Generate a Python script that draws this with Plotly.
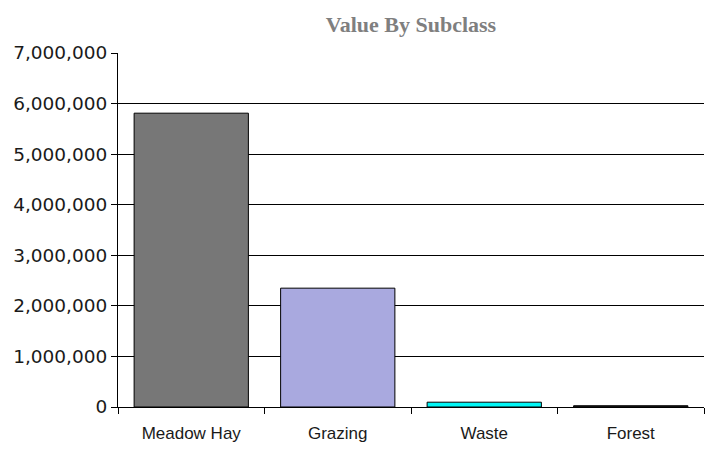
import plotly.graph_objects as go

categories = ["Meadow Hay", "Grazing", "Waste", "Forest"]
values = [5810000, 2350000, 95000, 25000]
colors = ["#777777", "#A9A9DF", "#00F5F5", "#222222"]
y_ticks = [0, 1000000, 2000000, 3000000, 4000000, 5000000, 6000000, 7000000]
y_labels = ["0", "1,000,000", "2,000,000", "3,000,000", "4,000,000", "5,000,000", "6,000,000", "7,000,000"]

fig = go.Figure(go.Bar(
    x=categories, y=values,
    marker=dict(color=colors, line=dict(color="black", width=1)),
    width=0.78,
    hoverinfo="x+y",
))

fig.update_layout(
    width=705, height=453,
    margin=dict(l=118, r=1, t=53, b=46),
    paper_bgcolor="white", plot_bgcolor="white",
    title=dict(text="<b>Value By Subclass</b>", x=(118 + 704) / 2 / 705, xanchor="center",
               y=1 - 24 / 453, yanchor="middle",
               font=dict(family="Liberation Serif, DejaVu Serif, serif", size=22, color="#7f7f7f")),
    showlegend=False,
)
fig.update_xaxes(
    showline=True, linecolor="black", linewidth=1,
    ticks="outside", tickson="boundaries", ticklen=6, tickcolor="black",
    ticklabelstandoff=11,
    tickfont=dict(family="Liberation Sans, Arial, sans-serif", size=17, color="#1a1a1a"),
    showgrid=False,
)
fig.update_yaxes(
    range=[0, 7000000], tickvals=y_ticks, ticktext=y_labels,
    showline=True, linecolor="black", linewidth=1,
    ticks="outside", ticklen=6, tickcolor="black",
    tickfont=dict(family="DejaVu Sans, Liberation Sans, sans-serif", size=18.5, color="#1a1a1a"),
    showgrid=True, gridcolor="black", gridwidth=1, zeroline=False,
)

fig.write_html("out.html", config={"displayModeBar": False},
               post_script="document.body.style.margin='0';document.body.style.overflow='hidden';")
